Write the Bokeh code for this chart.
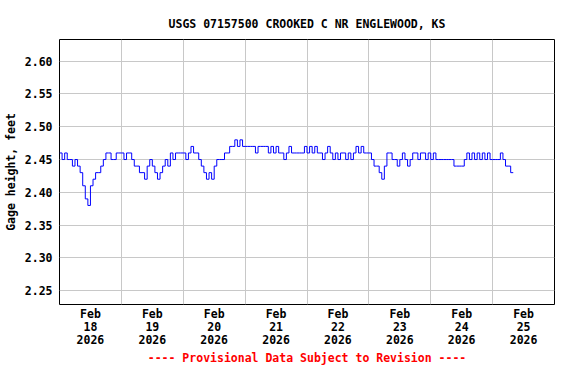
import pandas as pd
from bokeh.plotting import figure
from bokeh.models import (FixedTicker, DatetimeTickFormatter, PrintfTickFormatter,
                          Range1d, ColumnDataSource)
from bokeh.embed import file_html
from bokeh.resources import INLINE

# Hourly gage height (feet)
feb18 = [2.46, 2.45, 2.46, 2.45, 2.45, 2.44, 2.45, 2.44, 2.43, 2.41, 2.39, 2.38,
         2.41, 2.42, 2.43, 2.43, 2.44, 2.45, 2.46, 2.46, 2.45, 2.45, 2.46, 2.46]
feb19 = [2.46, 2.45, 2.46, 2.46, 2.45, 2.44, 2.44, 2.43, 2.43, 2.42, 2.44, 2.45,
         2.44, 2.43, 2.42, 2.43, 2.44, 2.45, 2.44, 2.46, 2.45, 2.46, 2.46, 2.46]
feb20 = [2.46, 2.45, 2.46, 2.47, 2.46, 2.46, 2.45, 2.44, 2.43, 2.42, 2.43, 2.42,
         2.44, 2.45, 2.45, 2.45, 2.46, 2.46, 2.47, 2.47, 2.48, 2.47, 2.48, 2.47]
feb21 = [2.47, 2.47, 2.47, 2.47, 2.46, 2.47, 2.47, 2.47, 2.47, 2.46, 2.47, 2.46,
         2.47, 2.46, 2.46, 2.45, 2.46, 2.47, 2.46, 2.46, 2.46, 2.46, 2.46, 2.47]
feb22 = [2.46, 2.47, 2.46, 2.47, 2.46, 2.46, 2.45, 2.46, 2.47, 2.46, 2.45, 2.46,
         2.45, 2.46, 2.46, 2.45, 2.46, 2.45, 2.46, 2.47, 2.46, 2.47, 2.46, 2.46]
feb23 = [2.46, 2.45, 2.44, 2.44, 2.43, 2.42, 2.44, 2.46, 2.46, 2.45, 2.45, 2.44,
         2.45, 2.46, 2.45, 2.44, 2.45, 2.46, 2.46, 2.45, 2.46, 2.46, 2.45, 2.46]
feb24 = [2.45, 2.46, 2.45, 2.45, 2.45, 2.45, 2.45, 2.45, 2.45, 2.44, 2.44, 2.44,
         2.44, 2.45, 2.46, 2.45, 2.46, 2.45, 2.46, 2.45, 2.46, 2.45, 2.46, 2.45]
feb25 = [2.45, 2.45, 2.45, 2.46, 2.45, 2.44, 2.44, 2.43, 2.43]

gage = feb18 + feb19 + feb20 + feb21 + feb22 + feb23 + feb24 + feb25
times = pd.date_range("2026-02-18 00:00", periods=len(gage), freq="h")

day_names = ["2026-02-18", "2026-02-19", "2026-02-20", "2026-02-21",
             "2026-02-22", "2026-02-23", "2026-02-24", "2026-02-25"]
y_ticks = [2.25, 2.30, 2.35, 2.40, 2.45, 2.50, 2.55, 2.60]

def ms(ts):
    return int(pd.Timestamp(ts).value // 10**6)

noon_ticks = [ms(pd.Timestamp(d) + pd.Timedelta(hours=12)) for d in day_names]
midnight_ticks = [ms(d) for d in day_names[1:]]

src = ColumnDataSource(dict(t=times, h=gage))

FONT = "DejaVu Sans Mono"
FS = "11.5px"

p = figure(width=560, height=368, x_axis_type="datetime",
           x_range=Range1d(pd.Timestamp("2026-02-18"), pd.Timestamp("2026-02-26")),
           y_range=Range1d(2.229, 2.633),
           output_backend="svg", toolbar_location=None,
           min_border_left=58, min_border_right=6,
           min_border_top=39, min_border_bottom=56,
           title="USGS 07157500 CROOKED C NR ENGLEWOOD, KS")

p.title.align = "center"
p.title.text_font = FONT
p.title.text_font_style = "bold"
p.title.text_font_size = FS
p.title.text_color = "black"
p.title.standoff = 17

p.step("t", "h", source=src, mode="after", line_color="#0000FF", line_width=1)

p.background_fill_color = "white"
p.border_fill_color = "white"
p.outline_line_color = "black"
p.outline_line_width = 1
p.outline_line_alpha = 1

# X axis
fmt = "%b\n%d\n%Y"
p.xaxis.ticker = FixedTicker(ticks=noon_ticks)
p.xaxis.formatter = DatetimeTickFormatter(
    microseconds=fmt, milliseconds=fmt, seconds=fmt, minsec=fmt, minutes=fmt,
    hourmin=fmt, hours=fmt, days=fmt, months=fmt, years=fmt)
p.xaxis.major_tick_line_color = None
p.xaxis.minor_tick_line_color = None
p.xaxis.major_tick_out = 0
p.xaxis.major_tick_in = 0
p.xaxis.minor_tick_out = 0
p.xaxis.minor_tick_in = 0
p.xaxis.axis_line_color = None
p.xaxis.major_label_text_font = FONT
p.xaxis.major_label_text_font_style = "bold"
p.xaxis.major_label_text_font_size = FS
p.xaxis.major_label_text_color = "black"
p.xaxis.major_label_text_line_height = 0.95
p.xaxis.major_label_standoff = 2
p.xaxis.axis_label = "---- Provisional Data Subject to Revision ----"
p.xaxis.axis_label_text_color = "#FF0000"
p.xaxis.axis_label_text_font = FONT
p.xaxis.axis_label_text_font_style = "bold"
p.xaxis.axis_label_text_font_size = FS
p.xaxis.axis_label_text_line_height = 1.0
p.xaxis.axis_label_standoff = 1
p.xgrid.ticker = FixedTicker(ticks=midnight_ticks)

# Y axis
p.yaxis.ticker = FixedTicker(ticks=y_ticks)
p.yaxis.formatter = PrintfTickFormatter(format="%.2f")
p.yaxis.major_tick_line_color = None
p.yaxis.minor_tick_line_color = None
p.yaxis.major_tick_out = 0
p.yaxis.major_tick_in = 0
p.yaxis.minor_tick_out = 0
p.yaxis.minor_tick_in = 0
p.yaxis.axis_line_color = None
p.yaxis.major_label_text_font = FONT
p.yaxis.major_label_text_font_style = "bold"
p.yaxis.major_label_text_font_size = FS
p.yaxis.major_label_text_color = "black"
p.yaxis.major_label_standoff = 7
p.yaxis.axis_label = "Gage height, feet"
p.yaxis.axis_label_text_font = FONT
p.yaxis.axis_label_text_font_style = "bold"
p.yaxis.axis_label_text_font_size = FS
p.yaxis.axis_label_text_color = "black"
p.yaxis.axis_label_standoff = 4

for g in (p.xgrid, p.ygrid):
    g.grid_line_color = "#c8c8c8"
    g.grid_line_width = 1

open("out.html", "w").write(file_html(p, INLINE))
